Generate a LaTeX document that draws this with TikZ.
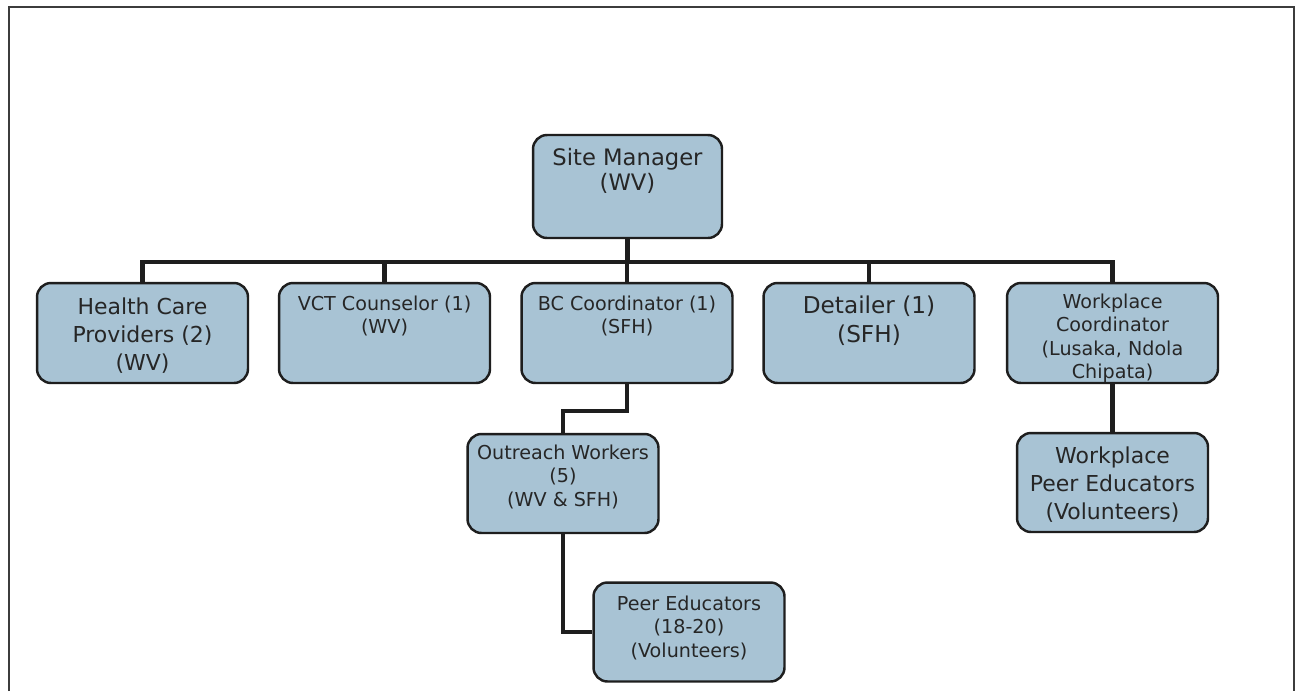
\documentclass[tikz,border=0pt]{standalone}
\usepackage{fontspec}
\setmainfont{DejaVu Sans}
\definecolor{boxfill}{RGB}{168,195,212}
\definecolor{edge}{RGB}{30,30,30}
\definecolor{framec}{RGB}{60,60,60}
\tikzset{
  orgbox/.style={draw=edge, line width=1.4pt, fill=boxfill, rounded corners=0.28cm, inner sep=0pt},
  wide/.style={orgbox, minimum width=4.22cm, minimum height=2.0cm},
  narrow/.style={orgbox, minimum width=3.82cm, minimum height=1.98cm},
  lbl/.style={anchor=north, inner sep=0pt, align=center, text=black!85},
  big/.style={lbl, font=\fontsize{12.5}{16}\selectfont},
  bigger/.style={lbl, font=\fontsize{13.2}{16.4}\selectfont},
  mid/.style={lbl, font=\fontsize{12.9}{14.2}\selectfont},
  small/.style={lbl, font=\fontsize{10.9}{13.3}\selectfont},
  conn/.style={draw=edge, line width=2.8pt}
}
\begin{document}
\begin{tikzpicture}[x=0.02cm, y=-0.02cm]
\useasboundingbox (0,0) rectangle (1297,691);
\fill[white] (0,0) rectangle (1297,691);
% frame (open at bottom)
\draw[framec, line width=0.9pt] (9,691) -- (9,7) -- (1294,7) -- (1294,691);

% boxes
\node[orgbox, minimum width=3.78cm, minimum height=2.06cm] (sm) at (627.5,186.5) {};
\node[wide] (hcp) at (142.5,333) {};
\node[wide] (vct) at (384.5,333) {};
\node[wide] (bc)  at (627,333) {};
\node[wide] (det) at (869,333) {};
\node[wide] (wc)  at (1112.5,333) {};
\node[narrow] (wpe) at (1112.5,482.5) {};
\node[narrow] (ow)  at (563,483.5) {};
\node[narrow] (pe)  at (689,632) {};

% labels
\node[mid]    (smT)  at (627.5,147.7) {Site Manager\\(WV)};
\node[big]    (hcpT) at (142.5,297.4) {Health Care\\Providers (2)\\(WV)};
\node[small]  (vctT) at (384.5,295.4) {VCT Counselor (1)\\(WV)};
\node[small]  (bcT)  at (627,295.4)   {BC Coordinator (1)\\(SFH)};
\node[bigger] (detT) at (869,295.3)   {Detailer (1)\\(SFH)};
\node[small]  (wcT)  at (1112.5,293.4) {Workplace\\Coordinator\\(Lusaka, Ndola\\Chipata)};
\node[big]    (wpeT) at (1112.5,446.4) {Workplace\\Peer Educators\\(Volunteers)};
\node[small]  (owT)  at (563,444.4)   {Outreach Workers\\(5)\\(WV \& SFH)};
\node[small]  (peT)  at (689,595.4)   {Peer Educators\\(18-20)\\(Volunteers)};

% connectors
\coordinate (bus) at (627,262);
\coordinate (j1) at (627,411);
\draw[conn] (sm.south) -- (sm.south |- bus);
\draw[conn] (hcp.north) -- (hcp.north |- bus) -- (wc.north |- bus) -- (wc.north);
\draw[conn] (vct.north |- bus) -- (vct.north);
\draw[conn] (bc.north |- bus) -- (bc.north);
\draw[conn] (det.north |- bus) -- (det.north);
\draw[conn] (bc.south) -- (bc.south |- j1) -- (ow.north |- j1) -- (ow.north);
\draw[conn] (ow.south) |- (pe.west);
\draw[conn] (wc.south) -- (wpe.north);
\end{tikzpicture}
\end{document}
